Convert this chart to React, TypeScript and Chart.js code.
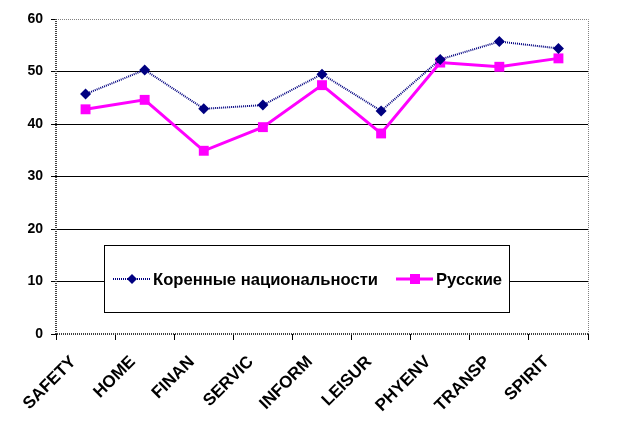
import React, { useEffect, useRef } from "react";
import { Chart, registerables } from "chart.js";

Chart.register(...registerables);

const categories = ["SAFETY", "HOME", "FINAN", "SERVIC", "INFORM", "LEISUR", "PHYENV", "TRANSP", "SPIRIT"];
const nativeValues = [45.7, 50.3, 42.9, 43.6, 49.5, 42.5, 52.3, 55.7, 54.4];
const russianValues = [42.8, 44.6, 34.9, 39.4, 47.4, 38.2, 51.7, 50.9, 52.5];
const seriesNames = ["Коренные национальности", "Русские"];
const yTicks = [0, 10, 20, 30, 40, 50, 60];

const FONT = "'Liberation Sans', Arial, sans-serif";
const NAVY = "#000080";
const MAGENTA = "#FF00FF";

const framePlugin = {
  id: "frame",
  beforeDatasetsDraw(chart: any) {
    const { ctx, chartArea: a } = chart;
    ctx.save();
    ctx.setLineDash([1, 1]);
    ctx.lineWidth = 1;
    ctx.strokeStyle = "#808080";
    ctx.beginPath();
    ctx.moveTo(a.left, a.top + 0.5);
    ctx.lineTo(a.right + 0.5, a.top + 0.5);
    ctx.lineTo(a.right + 0.5, a.bottom);
    ctx.stroke();
    ctx.lineWidth = 2;
    ctx.strokeStyle = "#404040";
    ctx.beginPath();
    ctx.moveTo(a.left, a.top);
    ctx.lineTo(a.left, a.bottom);
    ctx.lineTo(a.right + 1, a.bottom);
    ctx.stroke();
    ctx.restore();
  },
};

const legendPlugin = {
  id: "boxLegend",
  afterDraw(chart: any) {
    const { ctx, chartArea: a } = chart;
    const bx = a.left + 48;
    const by = a.top + 226;
    const bw = 405;
    const bh = 67;
    ctx.save();
    ctx.fillStyle = "#fff";
    ctx.fillRect(bx, by, bw, bh);
    ctx.strokeStyle = "#000";
    ctx.lineWidth = 1;
    ctx.strokeRect(bx + 0.5, by + 0.5, bw, bh);
    const cy = by + 34;
    // series 1
    ctx.setLineDash([1, 1]);
    ctx.strokeStyle = NAVY;
    ctx.lineWidth = 2;
    ctx.beginPath();
    ctx.moveTo(bx + 9, cy);
    ctx.lineTo(bx + 47, cy);
    ctx.stroke();
    ctx.setLineDash([]);
    ctx.fillStyle = NAVY;
    ctx.beginPath();
    ctx.moveTo(bx + 28, cy - 5);
    ctx.lineTo(bx + 33, cy);
    ctx.lineTo(bx + 28, cy + 5);
    ctx.lineTo(bx + 23, cy);
    ctx.closePath();
    ctx.fill();
    ctx.font = `bold 16.6px ${FONT}`;
    ctx.fillStyle = "#000";
    ctx.textBaseline = "middle";
    ctx.textAlign = "left";
    ctx.fillText(seriesNames[0], bx + 49, cy + 1);
    // series 2
    ctx.strokeStyle = MAGENTA;
    ctx.lineWidth = 3;
    ctx.beginPath();
    ctx.moveTo(bx + 292, cy);
    ctx.lineTo(bx + 329, cy);
    ctx.stroke();
    ctx.fillStyle = MAGENTA;
    ctx.fillRect(bx + 306, cy - 5, 10, 10);
    ctx.fillStyle = "#000";
    ctx.fillText(seriesNames[1], bx + 332, cy + 1);
    ctx.restore();
  },
};

export default function App() {
  const ref = useRef<HTMLCanvasElement>(null);
  useEffect(() => {
    document.body.style.margin = "0";
    const chart = new Chart(ref.current!, {
      type: "line",
      data: {
        labels: categories,
        datasets: [
          {
            label: seriesNames[0],
            data: nativeValues,
            borderColor: NAVY,
            backgroundColor: NAVY,
            borderWidth: 2,
            borderDash: [1, 1],
            pointStyle: "rectRot",
            pointRadius: 5.5,
            pointBorderWidth: 0,
            tension: 0,
          },
          {
            label: seriesNames[1],
            data: russianValues,
            borderColor: MAGENTA,
            backgroundColor: MAGENTA,
            borderWidth: 3,
            pointStyle: "rect",
            pointRadius: 7,
            pointBorderWidth: 0,
            tension: 0,
          },
        ],
      },
      options: {
        animation: false,
        responsive: false,
        devicePixelRatio: 1,
        layout: { padding: { top: 19, right: 38, left: 0, bottom: 0 } },
        plugins: { legend: { display: false }, tooltip: { enabled: false } },
        scales: {
          x: {
            offset: true,
            afterFit: (s: any) => {
              s.height = 100;
            },
            grid: {
              drawOnChartArea: false,
              drawTicks: true,
              tickLength: 6,
              tickColor: "#000",
              offset: true,
            },
            border: { display: false },
            ticks: {
              color: "#000",
              font: { family: FONT, size: 17, weight: "bold" },
              minRotation: 45,
              maxRotation: 45,
              labelOffset: -12,
              padding: 12,
              autoSkip: false,
            },
          },
          y: {
            min: 0,
            max: 60,
            afterFit: (s: any) => {
              s.width = 56;
            },
            afterBuildTicks: (s: any) => {
              s.ticks = yTicks.map((v) => ({ value: v }));
            },
            grid: {
              color: (c: any) =>
                c.tick && (c.tick.value === 0 || c.tick.value === 60) ? "rgba(0,0,0,0)" : "#000",
              tickColor: "#000",
              tickLength: 5,
              lineWidth: 1,
            },
            border: { display: false },
            ticks: {
              color: "#000",
              font: { family: FONT, size: 14, weight: "bold" },
              padding: 8,
            },
          },
        },
      },
      plugins: [framePlugin, legendPlugin],
    });
    return () => chart.destroy();
  }, []);
  return (
    <div style={{ width: 626, height: 434, background: "#fff" }}>
      <canvas ref={ref} width={626} height={434} />
    </div>
  );
}
